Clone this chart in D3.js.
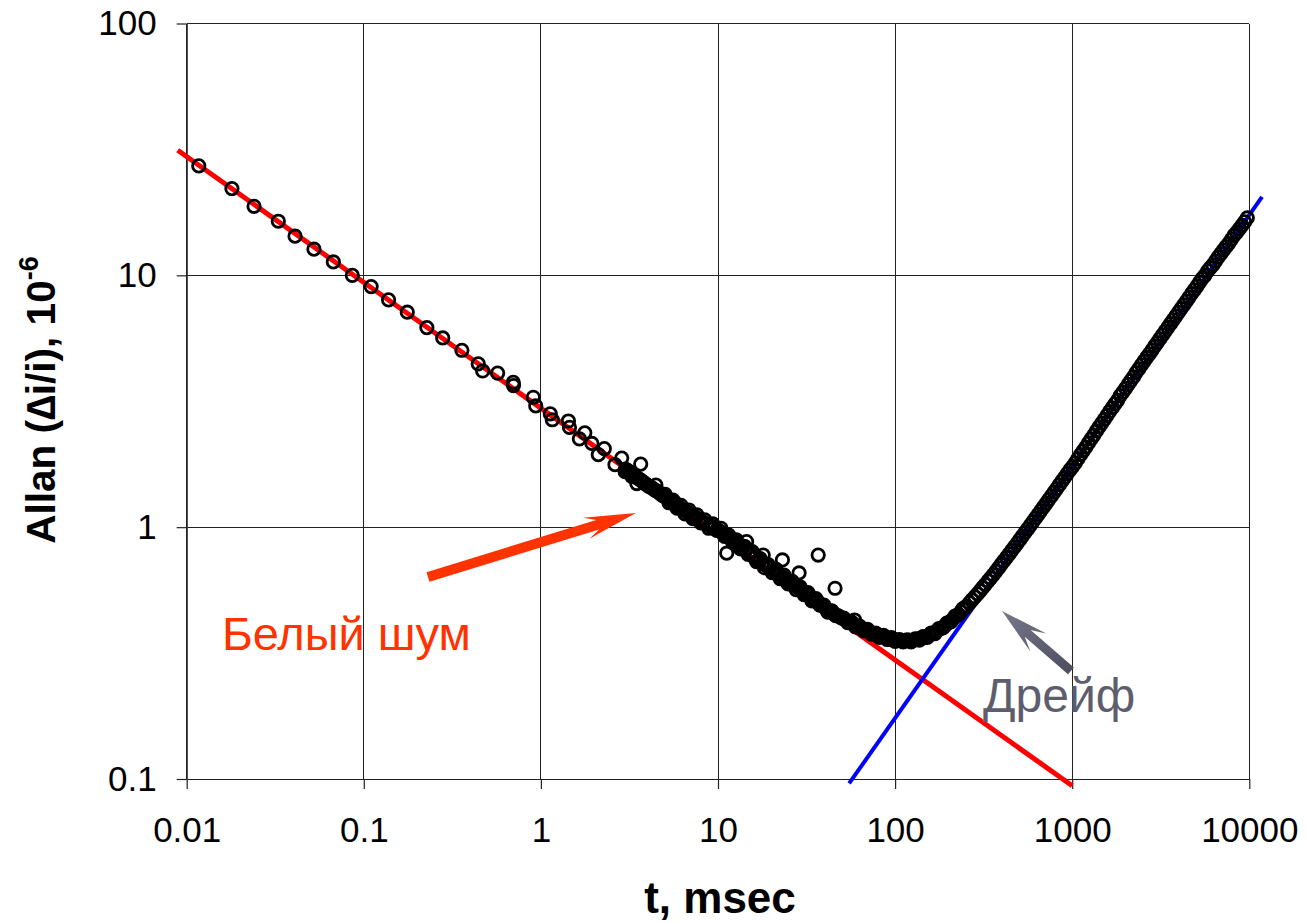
<!DOCTYPE html>
<html>
<head>
<meta charset="utf-8">
<script src="https://cdn.jsdelivr.net/npm/d3@7"></script>
<style>
  body { margin: 0; background: #fff; }
  svg { display: block; }
  text { font-family: "Liberation Sans", Arial, sans-serif; }
</style>
</head>
<body>
<svg id="chart" width="1307" height="923"></svg>
<script>
// Axis ticks (log scales)
const xTicks = [0.01, 0.1, 1, 10, 100, 1000, 10000];
const xTickLabels = ["0.01", "0.1", "1", "10", "100", "1000", "10000"];
const yTicks = [0.1, 1, 10, 100];
const yTickLabels = ["0.1", "1", "10", "100"];

// Allan deviation, log-spaced series (tau in msec, deviation in 1e-6)
const tauA = [0.0117, 0.018, 0.024, 0.0329, 0.0409, 0.0523, 0.0673, 0.0861, 0.110, 0.138,
  0.176, 0.227, 0.279, 0.358, 0.443, 0.570, 0.698, 0.906, 1.13, 1.43,
  1.77, 2.28, 2.86, 3.66, 4.46, 5.8, 7.3, 9.2, 11.2, 14.5,
  18.0, 23.1, 28.7, 36.8, 45.8, 59.0];
const allanA = [27.2, 22.1, 18.8, 16.4, 14.3, 12.7, 11.3, 10.0, 9.02, 7.99,
  7.14, 6.20, 5.64, 5.04, 4.45, 4.09, 3.76, 3.28, 2.82, 2.64,
  2.37, 2.05, 1.88, 1.78, 1.47, 1.24, 1.10, 1.00, 0.788, 0.876,
  0.775, 0.741, 0.658, 0.775, 0.572, 0.428];

// Second short series
const tauB = [0.469, 0.70, 0.935, 1.16, 1.45, 1.65, 1.94, 2.11, 2.62, 2.99, 3.26, 3.48];
const allanB = [4.17, 3.65, 3.03, 2.67, 2.49, 2.24, 2.15, 1.94, 1.77, 1.66, 1.59, 1.49];

// Dense series
const tauC = [3.00, 3.16, 3.33, 3.50, 3.69, 3.88, 4.09, 4.31, 4.53, 4.77,
  5.03, 5.29, 5.57, 5.87, 6.18, 6.51, 6.85, 7.22, 7.60, 8.00,
  8.42, 8.87, 9.34, 9.84, 10.4, 10.9, 11.5, 12.1, 12.7, 13.4,
  14.1, 14.8, 15.6, 16.5, 17.3, 18.3, 19.2, 20.2, 21.3, 22.4,
  23.6, 24.9, 26.2, 27.6, 29.0, 30.6, 32.2, 33.9, 35.7, 37.6,
  39.6, 41.7, 43.9, 46.2, 48.7, 51.3, 54.0, 56.8, 59.8, 63.0,
  66.3, 69.9, 73.6, 77.5, 81.6, 85.9, 90.4, 95.2, 100, 106,
  111, 117, 123, 130, 137, 144, 152, 160, 168, 177,
  186, 196, 207, 218, 229, 241, 254, 263, 272, 282,
  292, 302, 312, 323, 335, 346, 358, 371, 384, 397,
  411, 426, 441, 456, 472, 489, 506, 523, 542, 561,
  580, 601, 622, 643, 666, 689, 713, 738, 764, 791,
  818, 847, 877, 907, 939, 972, 1006, 1041, 1078, 1115,
  1154, 1195, 1237, 1280, 1325, 1371, 1419, 1469, 1520, 1573,
  1628, 1685, 1744, 1805, 1869, 1934, 2002, 2072, 2144, 2219,
  2297, 2377, 2461, 2547, 2636, 2728, 2824, 2922, 3025, 3130,
  3240, 3353, 3471, 3592, 3718, 3848, 3983, 4122, 4266, 4416,
  4570, 4730, 4896, 5067, 5245, 5428, 5618, 5815, 6018, 6229,
  6447, 6672, 6906, 7148, 7398, 7657, 7925, 8202, 8489, 8786,
  9094, 9412, 9742];
const allanC = [1.70, 1.66, 1.62, 1.57, 1.53, 1.49, 1.45, 1.42, 1.39, 1.35,
  1.35, 1.25, 1.28, 1.19, 1.22, 1.13, 1.17, 1.08, 1.12, 1.04,
  1.07, 0.99, 1.03, 0.97, 0.99, 0.92, 0.93, 0.87, 0.89, 0.82,
  0.84, 0.78, 0.80, 0.73, 0.75, 0.69, 0.71, 0.66, 0.68, 0.625,
  0.645, 0.595, 0.61, 0.565, 0.58, 0.54, 0.55, 0.51, 0.52, 0.49,
  0.49, 0.46, 0.465, 0.445, 0.44, 0.435, 0.418, 0.420, 0.402, 0.405,
  0.388, 0.393, 0.376, 0.380, 0.365, 0.372, 0.358, 0.364, 0.352, 0.358,
  0.350, 0.357, 0.350, 0.360, 0.356, 0.368, 0.365, 0.380, 0.378, 0.396,
  0.398, 0.416, 0.422, 0.443, 0.450, 0.474, 0.485, 0.501, 0.514, 0.529,
  0.544, 0.559, 0.575, 0.592, 0.611, 0.628, 0.647, 0.668, 0.689, 0.711,
  0.734, 0.758, 0.783, 0.808, 0.835, 0.863, 0.892, 0.921, 0.953, 0.985,
  1.017, 1.053, 1.089, 1.124, 1.164, 1.203, 1.244, 1.287, 1.331, 1.378,
  1.424, 1.474, 1.526, 1.577, 1.632, 1.689, 1.74, 1.80, 1.87, 1.94,
  2.01, 2.08, 2.16, 2.24, 2.32, 2.41, 2.50, 2.59, 2.68, 2.78,
  2.88, 2.98, 3.09, 3.19, 3.33, 3.44, 3.56, 3.69, 3.82, 3.95,
  4.11, 4.25, 4.41, 4.56, 4.72, 4.88, 5.05, 5.23, 5.41, 5.60,
  5.80, 6.00, 6.21, 6.43, 6.66, 6.89, 7.13, 7.38, 7.64, 7.90,
  8.18, 8.47, 8.76, 9.07, 9.39, 9.72, 10.0, 10.4, 10.7, 11.0,
  11.4, 11.8, 12.2, 12.6, 13.0, 13.4, 13.9, 14.4, 14.8, 15.3,
  15.8, 16.3, 16.9];

// Dense series, second pass over the mid range
const tauD = [3.08, 3.24, 3.41, 3.59, 3.78, 3.98, 4.20, 4.42, 4.65, 4.90,
  5.16, 5.43, 5.72, 6.02, 6.34, 6.68, 7.03, 7.41, 7.80, 8.21,
  8.64, 9.10, 9.59, 10.1, 10.6, 11.2, 11.8, 12.4, 13.0, 13.7,
  14.4, 15.2, 16.0, 16.9, 17.8, 18.7, 19.7, 20.7, 21.8, 23.0,
  24.2, 25.5, 26.9, 28.3, 29.8, 31.4, 33.0, 34.8, 36.6, 38.6,
  40.6, 42.8, 45.0, 47.4, 50.0, 52.6, 55.4, 58.3, 61.4, 64.6,
  68.1, 71.7, 75.5, 79.5, 83.7, 88.1, 92.8, 97.6, 103, 108,
  114, 120, 126, 133, 140, 148, 156, 164, 172, 181,
  191, 201, 212, 223, 235, 247];
const allanD = [1.68, 1.64, 1.59, 1.55, 1.51, 1.47, 1.44, 1.40, 1.37, 1.33,
  1.30, 1.27, 1.24, 1.20, 1.17, 1.15, 1.12, 1.10, 1.07, 1.05,
  1.03, 1.01, 1.00, 0.97, 0.95, 0.92, 0.90, 0.88, 0.85, 0.83,
  0.81, 0.79, 0.76, 0.74, 0.72, 0.705, 0.69, 0.67, 0.65, 0.635,
  0.62, 0.605, 0.59, 0.575, 0.56, 0.545, 0.53, 0.515, 0.505, 0.49,
  0.475, 0.465, 0.455, 0.445, 0.435, 0.427, 0.420, 0.412, 0.404, 0.397,
  0.390, 0.383, 0.378, 0.372, 0.368, 0.364, 0.360, 0.358, 0.356, 0.354,
  0.354, 0.355, 0.356, 0.359, 0.362, 0.367, 0.373, 0.379, 0.387, 0.396,
  0.406, 0.418, 0.431, 0.446, 0.461, 0.479];

// Fitted asymptotes: white noise (slope -1/2) and drift (slope +1)
const whiteNoiseT = [0.0089, 1000];
const whiteNoiseV = [31.4, 0.094];
const driftT = [55, 11800];
const driftV = [0.096, 20.5];

const W = 1307, H = 923;
const margin = { left: 186.7, right: 57.7, top: 23.5, bottom: 144 };

const svg = d3.select("#chart");
svg.append("rect").attr("width", W).attr("height", H).attr("fill", "#fff");

const x = d3.scaleLog().domain([0.01, 10000]).range([margin.left, W - margin.right]);
const y = d3.scaleLog().domain([0.1, 100]).range([H - margin.bottom, margin.top]);

// Grid
const grid = svg.append("g").attr("stroke", "#222").attr("stroke-width", 1).attr("shape-rendering", "crispEdges");
grid.selectAll("line.v").data(xTicks).join("line")
  .attr("x1", d => x(d)).attr("x2", d => x(d))
  .attr("y1", y(100)).attr("y2", y(0.1));
grid.selectAll("line.h").data(yTicks).join("line")
  .attr("x1", x(0.01)).attr("x2", x(10000))
  .attr("y1", d => y(d)).attr("y2", d => y(d));

// Axes
const xAxis = d3.axisBottom(x).tickValues(xTicks)
  .tickFormat((d, i) => xTickLabels[i]).tickSize(10).tickSizeOuter(0).tickPadding(28);
const gx = svg.append("g").attr("transform", `translate(0,${y(0.1)})`).call(xAxis);
const yAxis = d3.axisLeft(y).tickValues(yTicks)
  .tickFormat((d, i) => yTickLabels[i]).tickSize(10).tickSizeOuter(0).tickPadding(20);
const gy = svg.append("g").attr("transform", `translate(${x(0.01)},0)`).call(yAxis);
[gx, gy].forEach(g => {
  g.select(".domain").attr("stroke", "#222").attr("stroke-width", 1.2);
  g.selectAll(".tick line").attr("stroke", "#222").attr("stroke-width", 1.2);
  g.selectAll(".tick text").attr("fill", "#000").attr("font-size", 35)
    .attr("font-family", "'Liberation Sans', Arial, sans-serif");
});

// Fit lines
const line = d3.line().x(d => x(d[0])).y(d => y(d[1]));
svg.append("path").datum(whiteNoiseT.map((t, i) => [t, whiteNoiseV[i]]))
  .attr("d", line).attr("fill", "none").attr("stroke", "#ff0000").attr("stroke-width", 5);
svg.append("path").datum(driftT.map((t, i) => [t, driftV[i]]))
  .attr("d", line).attr("fill", "none").attr("stroke", "#0000ff").attr("stroke-width", 4);

// Measured points (hollow circles)
const pts = [];
[[tauC, allanC], [tauD, allanD], [tauB, allanB], [tauA, allanA]].forEach(([ts, vs]) =>
  ts.forEach((t, i) => pts.push([t, vs[i]])));
svg.append("g").selectAll("circle").data(pts).join("circle")
  .attr("cx", d => x(d[0])).attr("cy", d => y(d[1])).attr("r", 6.2)
  .attr("fill", "none").attr("stroke", "#000").attr("stroke-width", 2.8);

// Annotation arrows (stealth style)
function arrow(t0, v0, t1, v1, opt) {
  const x0 = x(t0), y0 = y(v0), x1 = x(t1), y1 = y(v1);
  const L = Math.hypot(x1 - x0, y1 - y0);
  const ux = (x1 - x0) / L, uy = (y1 - y0) / L;
  const nx = -uy, ny = ux;
  const hw = opt.width / 2, back = opt.headLen, joint = opt.headLen - opt.notch;
  const p = [
    [x0 + nx * hw, y0 + ny * hw],
    [x1 - ux * joint + nx * hw, y1 - uy * joint + ny * hw],
    [x1 - ux * back + nx * opt.headHalf, y1 - uy * back + ny * opt.headHalf],
    [x1, y1],
    [x1 - ux * back - nx * opt.headHalf, y1 - uy * back - ny * opt.headHalf],
    [x1 - ux * joint - nx * hw, y1 - uy * joint - ny * hw],
    [x0 - nx * hw, y0 - ny * hw]
  ];
  svg.append("path").attr("d", "M" + p.map(q => q.join(",")).join("L") + "Z")
    .attr("fill", opt.color);
}
arrow(0.2304, 0.634, 3.44, 1.139, { width: 10, headLen: 52, notch: 12, headHalf: 11, color: "#ff3300" });

const defs = svg.append("defs");
const grad = defs.append("linearGradient").attr("id", "driftArrow")
  .attr("x1", "0%").attr("y1", "0%").attr("x2", "100%").attr("y2", "100%");
grad.append("stop").attr("offset", "0%").attr("stop-color", "#77778a");
grad.append("stop").attr("offset", "100%").attr("stop-color", "#4c4c5e");
arrow(984, 0.2685, 401.5, 0.4647, { width: 9, headLen: 48, notch: 14, headHalf: 12, color: "url(#driftArrow)" });

// Annotation labels
svg.append("text").attr("x", x(0.0158)).attr("y", y(0.325))
  .attr("font-size", 47).attr("fill", "#ff3300").text("Белый шум");
svg.append("text").attr("x", x(313.6)).attr("y", y(0.1845))
  .attr("font-size", 48).attr("fill", "#5d5d6d").text("Дрейф");

// Axis titles
svg.append("text").attr("x", 720).attr("y", 913).attr("text-anchor", "middle")
  .attr("font-size", 44).attr("font-weight", "bold").text("t, msec");
const yt = svg.append("text").attr("transform", "translate(55,400) rotate(-90)")
  .attr("text-anchor", "middle").attr("font-size", 40.5).attr("font-weight", "bold");
yt.append("tspan").text("Allan (∆i/i), 10");
yt.append("tspan").attr("font-size", 27).attr("dy", -17).text("-6");
</script>
</body>
</html>
